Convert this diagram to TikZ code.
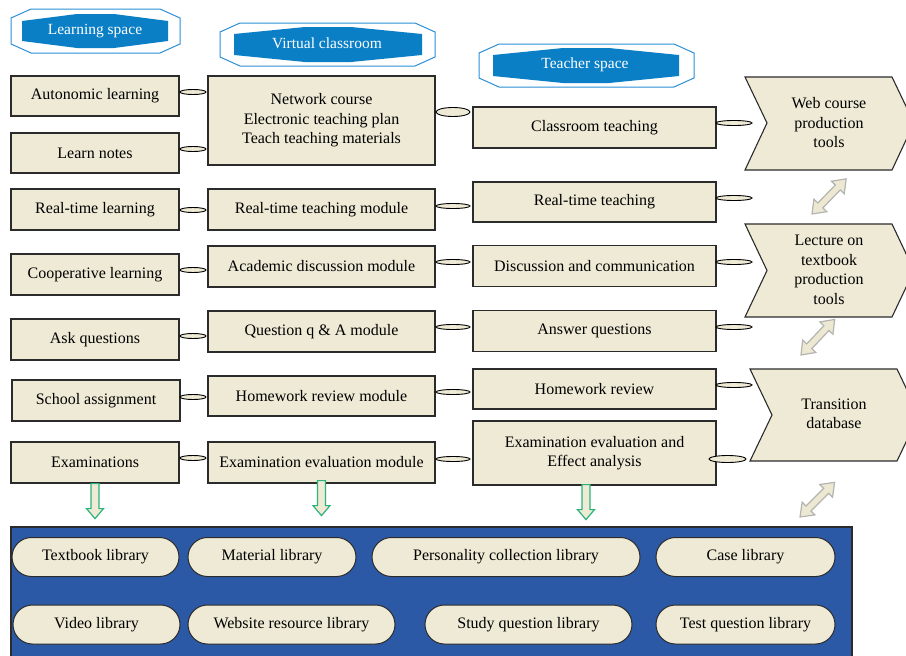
\documentclass[tikz,border=0pt]{standalone}
\usepackage{fontspec}
\setmainfont{Liberation Serif}
\usetikzlibrary{shapes.geometric,shapes.misc}
\definecolor{boxfill}{HTML}{EEEAD5}
\definecolor{boxline}{HTML}{2B2B2B}
\definecolor{hdrblue}{HTML}{0A7FC6}
\definecolor{hdrline}{HTML}{2A8FD6}
\definecolor{panelblue}{HTML}{2C59A6}
\definecolor{grn}{HTML}{2BB37A}
\definecolor{arrline}{HTML}{B4B4B0}
\definecolor{arrfill}{HTML}{ECE8D2}
\begin{document}
\begin{tikzpicture}[x=1pt,y=-1pt,
  font=\fontsize{16}{19.5}\selectfont,
  box/.style={draw=boxline, fill=boxfill, line width=1.2pt, inner sep=0pt, align=center},
  lnk/.style={ellipse, draw=black, fill=boxfill, line width=0.9pt, inner sep=0pt,
              minimum width=26, minimum height=5},
  pill/.style={rounded rectangle, draw=boxline, fill=boxfill, line width=1pt,
               minimum height=39, inner sep=0pt},
  chev/.style={draw=boxline, fill=boxfill, line width=1.1pt},
  hdrout/.style={draw=hdrline, fill=white, line width=1pt},
  hdrin/.style={fill=hdrblue},
  hdrtext/.style={text=white, font=\fontsize{15.5}{18}\selectfont},
  garr/.style={draw=grn, fill=boxfill, line width=1.2pt},
  darr/.style={draw=arrline, fill=arrfill, line width=1.2pt},
  downarr/.pic={\path[garr] (-4,0) -- (4,0) -- (4,25) -- (8.5,25) -- (0,35)
                 -- (-8.5,25) -- (-4,25) -- cycle;},
  dblarr/.pic={\path[darr] (0,0) -- (12,9) -- (12,3.5) -- (37,3.5) -- (37,9) -- (49,0)
                -- (37,-9) -- (37,-3.5) -- (12,-3.5) -- (12,-9) -- cycle;},
]
\useasboundingbox (0,0) rectangle (906,656);
\clip (0,0) rectangle (906,656);

% ---- section headers
\path[hdrout] (31,9) -- (160,9) -- (180,18) -- (180,44) -- (160,53) -- (31,53) -- (11,44) -- (11,18) -- cycle;
\path[hdrin] (22,21) -- (77,14) -- (114,14) -- (168,21) -- (168,41) -- (114,48) -- (77,48) -- (22,41) -- cycle;
\node[hdrtext] (hls) at (95,31) {Learning space};

\path[hdrout] (240,23) -- (415,23) -- (435,32) -- (435,57) -- (415,66) -- (240,66) -- (220,57) -- (220,32) -- cycle;
\path[hdrin] (234,34) -- (305,27) -- (351,27) -- (422,34) -- (422,55) -- (351,62) -- (305,62) -- (234,55) -- cycle;
\node[hdrtext] (hvc) at (327,43) {Virtual classroom};

\path[hdrout] (499,44) -- (674,44) -- (694,53) -- (694,78) -- (674,87) -- (499,87) -- (479,78) -- (479,53) -- cycle;
\path[hdrin] (493,55) -- (563,48) -- (609,48) -- (679,55) -- (679,76) -- (609,83) -- (563,83) -- (493,76) -- cycle;
\node[hdrtext] (hts) at (585,65) {Teacher space};

% ---- learning space column
\node[box, minimum width=168, minimum height=40] (al) at (95,96)    {Autonomic learning};
\node[box, minimum width=168, minimum height=40] (ln) at (95,153)   {Learn notes};
\node[box, minimum width=168, minimum height=41] (rl) at (95,209.5) {Real-time learning};
\node[box, minimum width=168, minimum height=41] (cl) at (95,274.5) {Cooperative learning};
\node[box, minimum width=168, minimum height=41] (aq) at (95,339.5) {Ask questions};
\node[box, minimum width=168, minimum height=41] (sa) at (96,400.5) {School assignment};
\node[box, minimum width=168, minimum height=41] (ex) at (95,462.5) {Examinations};

% ---- virtual classroom column
\node[box, minimum width=227, minimum height=89] (vc) at (321.5,120.5)
  {Network course\\Electronic teaching plan\\Teach teaching materials};
\node[box, minimum width=227, minimum height=41] (rm) at (321.5,209.5) {Real-time teaching module};
\node[box, minimum width=227, minimum height=41] (am) at (321.5,266.5) {Academic discussion module};
\node[box, minimum width=227, minimum height=41] (qm) at (321.5,331.5) {Question q \& A module};
\node[box, minimum width=227, minimum height=40] (hm) at (321.5,396)   {Homework review module};
\node[box, minimum width=227, minimum height=41] (em) at (321.5,462.5) {Examination evaluation module};

% ---- teacher space column
\node[box, minimum width=243, minimum height=41] (ct)  at (594.5,127.5) {Classroom teaching};
\node[box, minimum width=243, minimum height=40] (rt)  at (594.5,202)   {Real-time teaching};
\node[box, minimum width=243, minimum height=41] (dc)  at (594.5,266)   {Discussion and communication};
\node[box, minimum width=243, minimum height=41] (aqs) at (594.5,331)   {Answer questions};
\node[box, minimum width=243, minimum height=40] (hr)  at (594.5,389)   {Homework review};
\node[box, minimum width=243, minimum height=64] (ee)  at (594.5,453)
  {Examination evaluation and\\Effect analysis};

% ---- tool chevrons
\path[chev] (745,77) -- (892,77) -- (914,123) -- (892,170) -- (745,170) -- (767,123) -- cycle;
\node[align=center] (web) at (829,123) {Web course\\production\\tools};
\path[chev] (745,224) -- (892,224) -- (914,270.5) -- (892,317) -- (745,317) -- (767,270.5) -- cycle;
\node[align=center] (lec) at (829,270) {Lecture on\\textbook\\production\\tools};
\path[chev] (750,369) -- (897,369) -- (919,415) -- (897,461) -- (750,461) -- (772,415) -- cycle;
\node[align=center] (tdb) at (834,414) {Transition\\database};

% ---- ellipse links, learning space -> virtual classroom
\node[lnk] (l1) at (193,92)  {};
\node[lnk] (l2) at (193,149) {};
\node[lnk] (l3) at (193,210) {};
\node[lnk] (l4) at (193,270) {};
\node[lnk] (l5) at (193,336) {};
\node[lnk] (l6) at (193,397) {};
\node[lnk] (l7) at (193,458) {};

% ---- ellipse links, virtual classroom -> teacher space
\node[lnk, minimum width=34, minimum height=9] (m1) at (453,112) {};
\node[lnk, minimum width=34] (m2) at (453,206) {};
\node[lnk, minimum width=34] (m3) at (453,262) {};
\node[lnk, minimum width=34] (m4) at (453,327) {};
\node[lnk, minimum width=34] (m5) at (453,392) {};
\node[lnk, minimum width=34] (m6) at (453,459) {};

% ---- ellipse links, teacher space -> tools
\node[lnk, minimum width=36] (r1) at (734,123) {};
\node[lnk, minimum width=36] (r2) at (734,198) {};
\node[lnk, minimum width=36] (r3) at (734,262) {};
\node[lnk, minimum width=36] (r4) at (734,327) {};
\node[lnk, minimum width=36] (r5) at (734,385) {};
\node[lnk, minimum width=37, minimum height=7] (r6) at (727.5,459) {};

% ---- two-way arrows between the tools
\pic[rotate=45.8] at (812,214) {dblarr};
\pic[rotate=46.6] at (801,355) {dblarr};
\pic[rotate=45]   at (800,517) {dblarr};

% ---- resource library panel
\draw[draw=boxline, fill=panelblue, line width=1.1pt] (11,527) rectangle (852,680);
\node[pill, minimum width=167] (tb) at (95.5,557)  {Textbook library};
\node[pill, minimum width=168] (ml) at (272,557)   {Material library};
\node[pill, minimum width=268] (pc) at (506,557)   {Personality collection library};
\node[pill, minimum width=179] (cs) at (745.5,557) {Case library};
\node[pill, minimum width=167] (vl) at (96.5,624.5)  {Video library};
\node[pill, minimum width=207] (wr) at (291.5,624.5) {Website resource library};
\node[pill, minimum width=207] (sq) at (528.5,624.5) {Study question library};
\node[pill, minimum width=179] (tq) at (745.5,624.5) {Test question library};

% ---- arrows down into the libraries
\pic at (ex.south) {downarr};
\pic at ([yshift=3]em.south) {downarr};
\pic at ([xshift=-8.5,yshift=1]ee.south) {downarr};
\end{tikzpicture}
\end{document}
